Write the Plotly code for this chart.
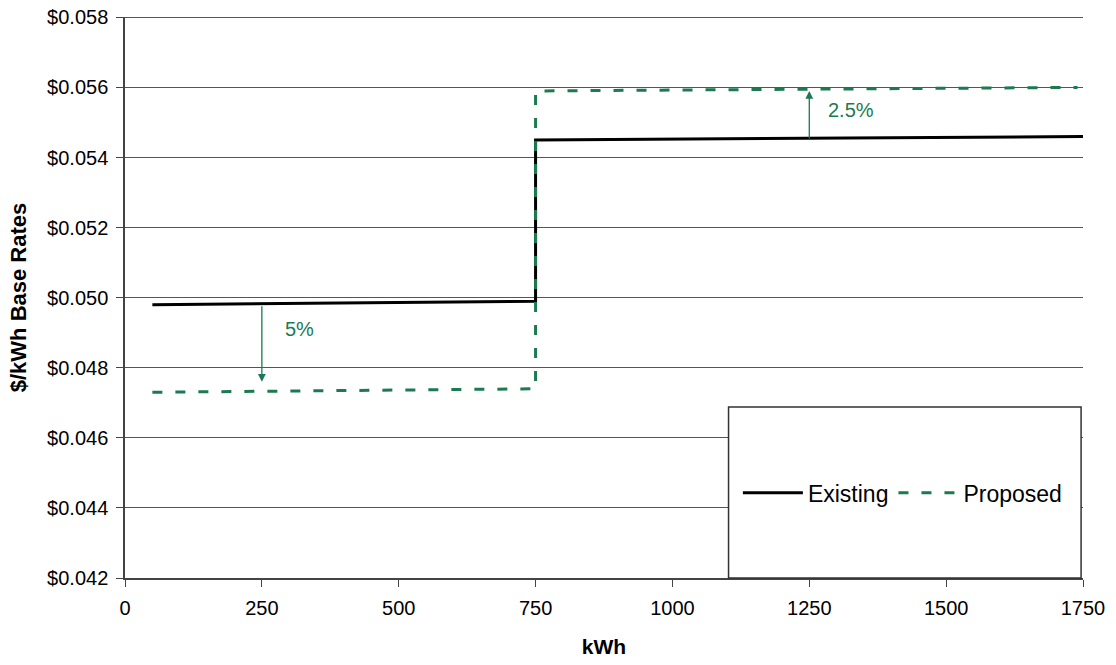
import plotly.graph_objects as go

# Data
existing_x = [50, 750, 750, 1750]
existing_y = [0.0498, 0.0499, 0.0545, 0.0546]
proposed_x = [50, 750, 750, 1740]
proposed_y = [0.0473, 0.0474, 0.0559, 0.0560]
xticks = [0, 250, 500, 750, 1000, 1250, 1500, 1750]
yticks = [0.042, 0.044, 0.046, 0.048, 0.050, 0.052, 0.054, 0.056, 0.058]
ytick_labels = ["$%.3f" % v for v in yticks]

green = "#1b7a50"
FONT = "Liberation Sans, Arial"

fig = go.Figure()
fig.add_trace(go.Scatter(x=existing_x, y=existing_y, mode="lines", name="Existing",
                         line=dict(color="black", width=3)))
fig.add_trace(go.Scatter(x=proposed_x, y=proposed_y, mode="lines", name="Proposed",
                         line=dict(color=green, width=3, dash="10px,13px")))

# annotation arrows
fig.add_annotation(x=250, y=0.0476, ax=250, ay=0.0498, xref="x", yref="y", axref="x", ayref="y",
                   showarrow=True, arrowhead=2, arrowsize=1.2, arrowwidth=1.3, arrowcolor=green, text="")
fig.add_annotation(x=318, y=0.0491, text="5%", showarrow=False,
                   font=dict(size=20, color=green, family=FONT))
fig.add_annotation(x=1250, y=0.0559, ax=1250, ay=0.0545, xref="x", yref="y", axref="x", ayref="y",
                   showarrow=True, arrowhead=2, arrowsize=1.2, arrowwidth=1.3, arrowcolor=green, text="")
fig.add_annotation(x=1327, y=0.05535, text="2.5%", showarrow=False,
                   font=dict(size=20, color=green, family=FONT))

# top gridline (plot top edge)
fig.add_shape(type="line", xref="paper", yref="y", x0=0, x1=1, y0=yticks[-1], y1=yticks[-1],
              line=dict(color="#555555", width=1.2), layer="below")
# legend box
fig.add_shape(type="rect", xref="paper", yref="paper", x0=0.630, x1=0.998, y0=0.0, y1=0.305,
              line=dict(color="#333333", width=1.5), fillcolor="white", layer="above")

fig.update_layout(
    width=1116, height=665,
    margin=dict(l=125, r=33, t=17, b=87),
    plot_bgcolor="white", paper_bgcolor="white",
    font=dict(family=FONT, size=20, color="black"),
    showlegend=True,
    legend=dict(orientation="h", x=0.812, y=0.152, xanchor="center", yanchor="middle",
                bgcolor="rgba(0,0,0,0)", font=dict(size=23), itemwidth=60, tracegroupgap=0),
    xaxis=dict(range=[0, 1750], tickvals=xticks, showgrid=False, zeroline=False,
               showline=True, linecolor="#444444", linewidth=1.5, automargin=False,
               ticks="outside", ticklen=7, tickcolor="#444444", ticklabelstandoff=4,
               tickfont=dict(size=20),
               title=dict(text="<b>kWh</b>", font=dict(size=21), standoff=22)),
    yaxis=dict(range=[0.042, 0.05801], tickvals=yticks, ticktext=ytick_labels,
               showgrid=True, gridcolor="#555555", gridwidth=1.2, zeroline=False,
               showline=True, linecolor="#444444", linewidth=1.5, automargin=False,
               ticks="outside", ticklen=7, tickcolor="#444444", ticklabelstandoff=4,
               tickfont=dict(size=20),
               title=dict(text="<b>$/kWh Base Rates</b>", font=dict(size=22), standoff=14)),
)

fig.write_html("out.html", config={"displayModeBar": False},
               post_script="document.body.style.margin='0';document.body.style.overflow='hidden';")
